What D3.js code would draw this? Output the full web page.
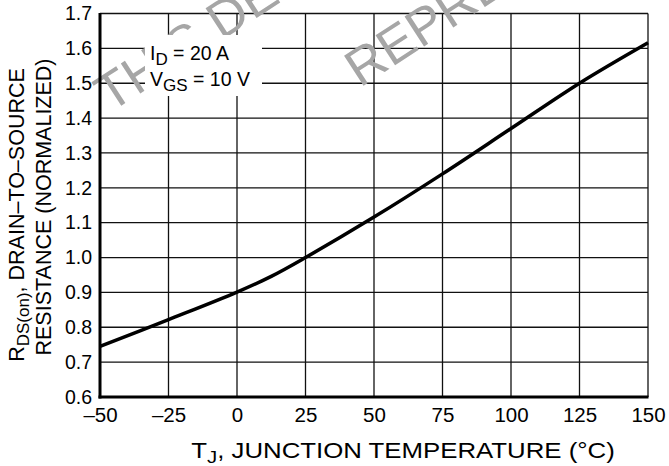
<!DOCTYPE html>
<html>
<head>
<meta charset="utf-8">
<script src="https://cdn.jsdelivr.net/npm/d3@7"></script>
<style>
  html, body { margin: 0; padding: 0; background: #fff; }
  svg { display: block; font-family: "Liberation Sans", Arial, Helvetica, sans-serif; }
</style>
</head>
<body>
<svg id="chart" width="669" height="466"></svg>
<script>
// Junction temperature (°C) and normalized RDS(on)
const temps = [-50, -25, 0, 12.5, 25, 50, 75, 100, 125, 150];
const rdsOn = [0.745, 0.822, 0.901, 0.946, 1.0, 1.116, 1.24, 1.37, 1.50, 1.616];

const xTicks = [-50, -25, 0, 25, 50, 75, 100, 125, 150];
const yTicks = [0.6, 0.7, 0.8, 0.9, 1.0, 1.1, 1.2, 1.3, 1.4, 1.5, 1.6, 1.7];

const svg = d3.select("#chart");
const plotL = 100, plotR = 648, plotT = 13.5, plotB = 397;

const x = d3.scaleLinear().domain([-50, 150]).range([plotL, plotR]);
const y = d3.scaleLinear().domain([0.6, 1.7]).range([plotB, plotT]);

// grid
const grid = svg.append("g").attr("stroke", "#111").attr("stroke-width", 1.3);
grid.selectAll("line.v").data(xTicks).join("line")
  .attr("x1", d => x(d)).attr("x2", d => x(d))
  .attr("y1", plotT).attr("y2", plotB);
grid.selectAll("line.h").data(yTicks).join("line")
  .attr("y1", d => y(d)).attr("y2", d => y(d))
  .attr("x1", plotL).attr("x2", plotR);

// watermark
const wm = svg.append("g").attr("fill", "#a6a6a6")
  .style("font-size", "52px");
wm.append("text").attr("transform", "translate(110,113) rotate(-33)").text("THIS DEVICE");
wm.append("text").attr("transform", "translate(360,88) rotate(-33)").text("REPRESENT");

// axes lines (heavier left/bottom)
svg.append("line").attr("x1", plotL).attr("x2", plotL).attr("y1", plotT - 0.5).attr("y2", plotB + 1.5)
  .attr("stroke", "#000").attr("stroke-width", 3);
svg.append("line").attr("x1", plotL - 1.5).attr("x2", plotR + 0.5).attr("y1", plotB).attr("y2", plotB)
  .attr("stroke", "#000").attr("stroke-width", 3);

// y tick labels
const yAxis = d3.axisLeft(y).tickValues(yTicks).tickFormat(d3.format(".1f")).tickSize(0).tickPadding(8);
const ga = svg.append("g").attr("transform", `translate(${plotL},0)`).call(yAxis);
ga.select(".domain").remove();
ga.selectAll("text").style("font-size", "19.5px").attr("fill", "#000")
  .style("font-family", "Liberation Sans, Arial, sans-serif");

// x tick labels
const xAxis = d3.axisBottom(x).tickValues(xTicks)
  .tickFormat(d => d < 0 ? "\u2013" + Math.abs(d) : String(d)).tickSize(0).tickPadding(10);
const gx = svg.append("g").attr("transform", `translate(0,${plotB})`).call(xAxis);
gx.select(".domain").remove();
gx.selectAll("text").style("font-size", "20.5px").attr("fill", "#000")
  .style("font-family", "Liberation Sans, Arial, sans-serif");

// condition label
svg.append("rect").attr("x", 145).attr("y", 35).attr("width", 117).attr("height", 61).attr("fill", "#fff");
const lab = svg.append("g").style("font-size", "19.5px").attr("fill", "#000");
const t1 = lab.append("text").attr("x", 150).attr("y", 60);
t1.append("tspan").text("I");
t1.append("tspan").attr("dy", 5).style("font-size", "17px").text("D");
t1.append("tspan").attr("dy", -5).text(" = 20 A");
const t2 = lab.append("text").attr("x", 150).attr("y", 86);
t2.append("tspan").text("V");
t2.append("tspan").attr("dy", 5).style("font-size", "17px").text("GS");
t2.append("tspan").attr("dy", -5).text(" = 10 V");

// curve
const line = d3.line().x((d, i) => x(temps[i])).y(d => y(d)).curve(d3.curveCatmullRom.alpha(0.5));
svg.append("path").datum(rdsOn).attr("d", line)
  .attr("fill", "none").attr("stroke", "#000").attr("stroke-width", 3.5)
  .attr("stroke-linejoin", "round");

// x title (set a little wide)
const xt = svg.append("text").attr("transform", "translate(403,458) scale(1.2,1)")
  .attr("text-anchor", "middle").style("font-size", "21.5px").attr("fill", "#000");
xt.append("tspan").text("T");
xt.append("tspan").attr("dy", 5).style("font-size", "17px").text("J");
xt.append("tspan").attr("dy", -5).text(", JUNCTION TEMPERATURE (\u00B0C)");

// y title (two lines)
const yt1 = svg.append("text").attr("transform", `translate(24,${215}) rotate(-90)`)
  .attr("text-anchor", "middle").style("font-size", "21.5px").attr("fill", "#000");
yt1.append("tspan").text("R");
yt1.append("tspan").attr("dy", 5).style("font-size", "17px").text("DS(on)");
yt1.append("tspan").attr("dy", -5).text(", DRAIN\u2013TO\u2013SOURCE");
svg.append("text").attr("transform", `translate(51,${207}) rotate(-90)`)
  .attr("text-anchor", "middle").style("font-size", "21.5px").attr("fill", "#000")
  .text("RESISTANCE (NORMALIZED)");
</script>
</body>
</html>
